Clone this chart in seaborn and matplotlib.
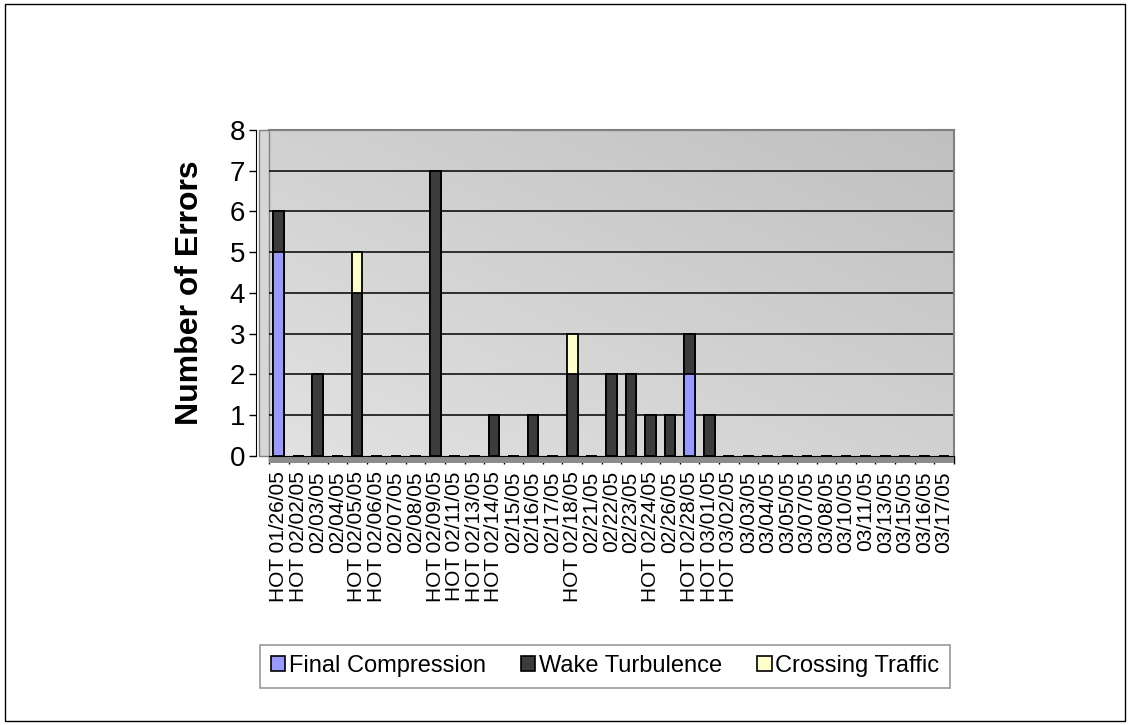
import numpy as np
import pandas as pd

import matplotlib
matplotlib.use("Agg")
import matplotlib.pyplot as plt
from matplotlib.patches import Patch, Rectangle
import seaborn as sns

# ==========================================
# DATA
# ==========================================

dates = [
    "HOT 01/26/05", "HOT 02/02/05", "02/03/05", "02/04/05", "HOT 02/05/05",
    "HOT 02/06/05", "02/07/05", "02/08/05", "HOT 02/09/05", "HOT 02/11/05",
    "HOT 02/13/05", "HOT 02/14/05", "02/15/05", "02/16/05", "02/17/05",
    "HOT 02/18/05", "02/21/05", "02/22/05", "02/23/05", "HOT 02/24/05",
    "02/26/05", "HOT 02/28/05", "HOT 03/01/05", "HOT 03/02/05", "03/03/05",
    "03/04/05", "03/05/05", "03/07/05", "03/08/05", "03/10/05",
    "03/11/05", "03/13/05", "03/15/05", "03/16/05", "03/17/05",
]

final_compression = [5, 0, 0, 0, 0, 0, 0, 0, 0, 0, 0, 0, 0, 0, 0, 0, 0, 0,
                     0, 0, 0, 2, 0, 0, 0, 0, 0, 0, 0, 0, 0, 0, 0, 0, 0]
wake_turbulence = [1, 0, 2, 0, 4, 0, 0, 0, 7, 0, 0, 1, 0, 1, 0, 2, 0, 2,
                   2, 1, 1, 1, 1, 0, 0, 0, 0, 0, 0, 0, 0, 0, 0, 0, 0]
crossing_traffic = [0, 0, 0, 0, 1, 0, 0, 0, 0, 0, 0, 0, 0, 0, 0, 1, 0, 0,
                    0, 0, 0, 0, 0, 0, 0, 0, 0, 0, 0, 0, 0, 0, 0, 0, 0]

series_names = ["Final Compression", "Wake Turbulence", "Crossing Traffic"]
series_colors = ["#9999ff", "#3c3c3c", "#ffffcc"]

df = pd.DataFrame({
    "date": dates,
    "fc": final_compression,
    "wt": wake_turbulence,
    "ct": crossing_traffic,
})

# cumulative heights so layers can be overdrawn top-down
df["top_fc"] = df["fc"]
df["top_wt"] = df["fc"] + df["wt"]
df["top_ct"] = df["fc"] + df["wt"] + df["ct"]

# ==========================================
# FIGURE
# ==========================================

sns.set_style("white")
plt.rcParams["font.family"] = ["Liberation Sans", "DejaVu Sans"]
plt.rcParams["text.color"] = "black"
plt.rcParams["xtick.color"] = "black"
plt.rcParams["ytick.color"] = "black"
plt.rcParams["axes.labelcolor"] = "black"

fig = plt.figure(figsize=(11.3, 7.25), dpi=100)
ax = fig.add_axes([0.238, 0.371, 0.606, 0.450])

# gray gradient wall
grad = np.linspace(0, 1, 256).reshape(1, -1) + np.linspace(0, 1, 256).reshape(-1, 1)
ax.imshow(grad, cmap=matplotlib.colors.LinearSegmentedColormap.from_list(
    "wall", ["#e2e2e2", "#c0c0c0"]),
    extent=[-0.5, len(dates) - 0.5, 0, 8], origin="lower",
    aspect="auto", zorder=0)

# side wall on the left
ax.add_patch(Rectangle((-0.014, 0), 0.014, 1, transform=ax.transAxes,
                       facecolor="#d6d6d6", edgecolor="#808080",
                       linewidth=1, clip_on=False, zorder=1))

for y in range(1, 8):
    ax.axhline(y, color="black", linewidth=1.1, zorder=1)
ax.axhline(8, color="#808080", linewidth=1.5, zorder=1)

# ==========================================
# BARS
# ==========================================

layers = [("top_ct", series_colors[2]), ("top_wt", series_colors[1]),
          ("top_fc", series_colors[0])]

for col, color in layers:
    sns.barplot(
        data=df,
        x="date",
        y=col,
        color=color,
        saturation=1,
        width=0.55,
        edgecolor="black",
        linewidth=1.3,
        ax=ax,
        zorder=3,
    )

# floor
ax.add_patch(Rectangle((-0.5, -0.18), len(dates), 0.18, facecolor="#8c8c8c",
                       edgecolor="none", clip_on=False, zorder=2))

ax.set_xlim(-0.5, len(dates) - 0.5)
ax.set_ylim(0, 8)
ax.set_yticks(range(0, 9))
ax.tick_params(axis="y", labelsize=20, length=5, width=1, direction="out",
               left=True, pad=3)

ax.set_xticks(range(len(dates)))
ax.set_xticklabels(dates, rotation=90, fontsize=15)
ax.set_xticks(np.arange(-0.5, len(dates), 1), minor=True)
ax.tick_params(axis="x", which="major", length=0, pad=11)
ax.tick_params(axis="x", which="minor", length=6, width=1, direction="out",
               bottom=True)

ax.set_xlabel("")
ax.set_ylabel("Number of Errors", fontsize=23, fontweight="bold", labelpad=18)

for side in ["top", "right"]:
    ax.spines[side].set_color("#808080")
    ax.spines[side].set_linewidth(1.5)
ax.spines["left"].set_color("black")
ax.spines["left"].set_position(("outward", 9))
ax.spines["bottom"].set_color("black")

# ==========================================
# LEGEND
# ==========================================

handles = [Patch(facecolor=c, edgecolor="black", linewidth=1.2)
           for c in series_colors]
leg = fig.legend(
    handles,
    series_names,
    loc="center",
    bbox_to_anchor=(0.228, 0.044, 0.615, 0.074),
    ncol=3,
    fontsize=17,
    frameon=True,
    fancybox=False,
    handlelength=0.6,
    handleheight=0.6,
    handletextpad=0.15,
    columnspacing=1.5,
    borderpad=0.45,
)
leg.get_frame().set_edgecolor("#808080")
leg.get_frame().set_linewidth(1.2)

# outer border
fig.add_artist(Rectangle((0.004, 0.006), 0.992, 0.988, transform=fig.transFigure,
                         fill=False, edgecolor="black", linewidth=1))

fig.savefig("out.png", dpi=100)
plt.close(fig)
